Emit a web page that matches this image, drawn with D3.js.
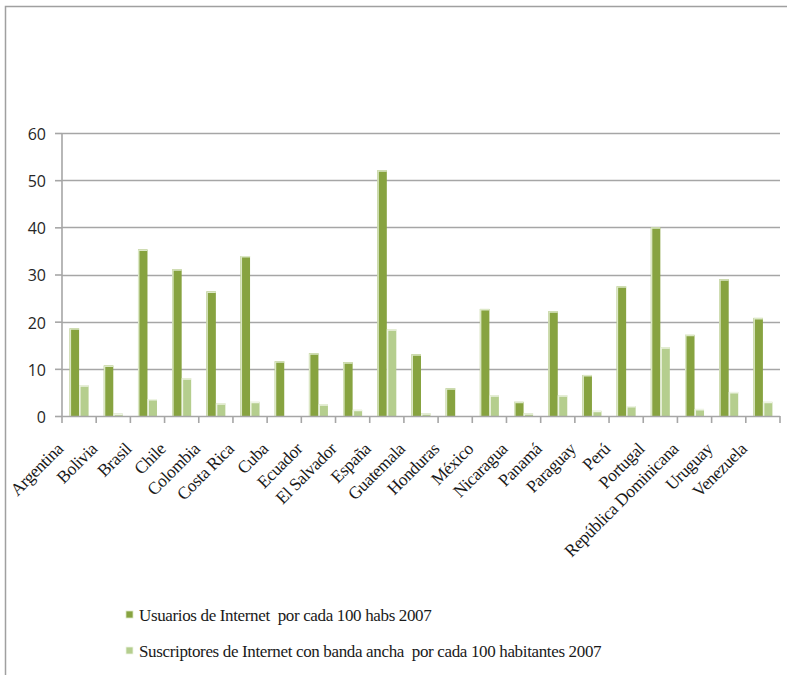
<!DOCTYPE html>
<html>
<head>
<meta charset="utf-8">
<script src="https://cdn.jsdelivr.net/npm/d3@7"></script>
<style>
  html, body { margin: 0; padding: 0; background: #fff; }
  svg { display: block; }
</style>
</head>
<body>
<svg id="chart" width="787" height="675"></svg>
<script>
// Countries on the category axis
const countries = [
  "Argentina", "Bolivia", "Brasil", "Chile", "Colombia", "Costa Rica", "Cuba",
  "Ecuador", "El Salvador", "España", "Guatemala", "Honduras", "México",
  "Nicaragua", "Panamá", "Paraguay", "Perú", "Portugal",
  "República Dominicana", "Uruguay", "Venezuela"
];

// Internet users per 100 inhabitants, 2007
const usuarios = [
  18.6, 10.7, 35.3, 31.1, 26.4, 33.9, 11.6,
  13.3, 11.4, 52.1, 13.1, 5.9, 22.7,
  3.0, 22.2, 8.7, 27.5, 40.0,
  17.2, 29.0, 20.8
];

// Broadband subscribers per 100 inhabitants, 2007
const suscriptores = [
  6.5, 0.5, 3.6, 8.0, 2.7, 3.0, 0,
  2.5, 1.3, 18.4, 0.6, 0, 4.4,
  0.6, 4.4, 1.1, 2.1, 14.6,
  1.5, 5.1, 3.0
];

const seriesNames = [
  "Usuarios de Internet  por cada 100 habs 2007",
  "Suscriptores de Internet con banda ancha  por cada 100 habitantes 2007"
];
const yTicks = [0, 10, 20, 30, 40, 50, 60];

const colors = ["#87A340", "#B5CE8E"];
const edge = ["#DCE8C6", "#EEF4E4"];

const svg = d3.select("#chart");

// outer frame (top and left edges)
svg.append("path")
  .attr("d", "M5.5,675 V6.5 H787")
  .attr("fill", "none")
  .attr("stroke", "#A0A0A0")
  .attr("stroke-width", 1.5);

const plot = { left: 62, right: 780, top: 133, bottom: 416 };

const x = d3.scaleBand()
  .domain(countries)
  .range([plot.left, plot.right])
  .paddingInner(0).paddingOuter(0);

const y = d3.scaleLinear()
  .domain([0, 60])
  .range([plot.bottom, plot.top]);

const groupW = 19;
const x1 = d3.scaleBand()
  .domain([0, 1])
  .range([0, groupW])
  .padding(0);

// horizontal gridlines
svg.append("g")
  .selectAll("line")
  .data(yTicks.filter(d => d > 0))
  .join("line")
  .attr("x1", plot.left).attr("x2", plot.right)
  .attr("y1", d => Math.round(y(d)) + 0.5)
  .attr("y2", d => Math.round(y(d)) + 0.5)
  .attr("stroke", "#A6A6A6")
  .attr("stroke-width", 1.6);

// y axis
const yAxis = svg.append("g")
  .attr("transform", `translate(${plot.left},0)`)
  .call(d3.axisLeft(y).tickValues(yTicks).tickSize(7).tickPadding(9).tickFormat(d3.format("d")));
yAxis.select(".domain").attr("stroke", "#A6A6A6").attr("stroke-width", 1.6)
  .attr("d", `M0,${plot.top}V${plot.bottom}`);
yAxis.selectAll(".tick line").attr("stroke", "#A6A6A6").attr("stroke-width", 1.6);
yAxis.selectAll(".tick text")
  .attr("fill", "#262626")
  .attr("dy", "0.4em")
  .style("font-family", "'Open Sans', 'Noto Sans', sans-serif")
  .style("font-size", "16px");

// bars
const data = countries.map((c, i) => ({ country: c, values: [usuarios[i], suscriptores[i]] }));
const groups = svg.append("g")
  .selectAll("g")
  .data(data)
  .join("g")
  .attr("transform", d => `translate(${x(d.country) + (x.bandwidth() - groupW) / 2},0)`);

groups.selectAll("rect")
  .data(d => d.values.map((v, k) => ({ v, k })))
  .join("rect")
  .attr("x", d => x1(d.k))
  .attr("y", d => y(d.v))
  .attr("width", x1.bandwidth())
  .attr("height", d => y(0) - y(d.v))
  .attr("fill", d => colors[d.k]);

// light bevel on the left and top of each bar
groups.selectAll("path.bevel")
  .data(d => d.values.map((v, k) => ({ v, k })).filter(e => e.v > 0))
  .join("path")
  .attr("class", "bevel")
  .attr("d", d => `M${x1(d.k) + 0.75},${y(0)} V${y(d.v) + 0.75} H${x1(d.k) + x1.bandwidth()}`)
  .attr("fill", "none")
  .attr("stroke", d => edge[d.k])
  .attr("stroke-width", 1.5);

// x axis
const xAxis = svg.append("g")
  .attr("transform", `translate(0,${plot.bottom})`);
xAxis.append("line")
  .attr("x1", plot.left).attr("x2", plot.right)
  .attr("y1", 0.5).attr("y2", 0.5)
  .attr("stroke", "#A6A6A6").attr("stroke-width", 1.6);
xAxis.selectAll("line.tick")
  .data(countries.concat(["_end"]))
  .join("line")
  .attr("class", "tick")
  .attr("x1", (d, i) => plot.left + i * x.step())
  .attr("x2", (d, i) => plot.left + i * x.step())
  .attr("y1", 0).attr("y2", 7)
  .attr("stroke", "#A6A6A6").attr("stroke-width", 1.6);

xAxis.selectAll("text")
  .data(countries)
  .join("text")
  .attr("transform", d => `translate(${x(d) + x.bandwidth() / 2 - 15},34) rotate(-45)`)
  .attr("text-anchor", "end")
  .attr("fill", "#1a1a1a")
  .style("font-family", "'Liberation Serif', 'Times New Roman', serif")
  .style("font-size", "17.5px")
  .style("letter-spacing", "-0.4px")
  .text(d => d);

// legend
const legend = svg.append("g");
const legendRows = [615, 651];
seriesNames.forEach((name, k) => {
  legend.append("rect")
    .attr("x", 126).attr("y", legendRows[k] - 4)
    .attr("width", 7).attr("height", 7)
    .attr("fill", colors[k])
    .attr("stroke", edge[k]).attr("stroke-width", 0.8);
  legend.append("text")
    .attr("x", 139).attr("y", legendRows[k] + 5.5)
    .attr("fill", "#1a1a1a")
    .style("font-family", "'Liberation Serif', 'Times New Roman', serif")
    .style("font-size", "17px")
    .style("letter-spacing", "-0.35px")
    .style("white-space", "pre")
    .text(name);
});
</script>
</body>
</html>
